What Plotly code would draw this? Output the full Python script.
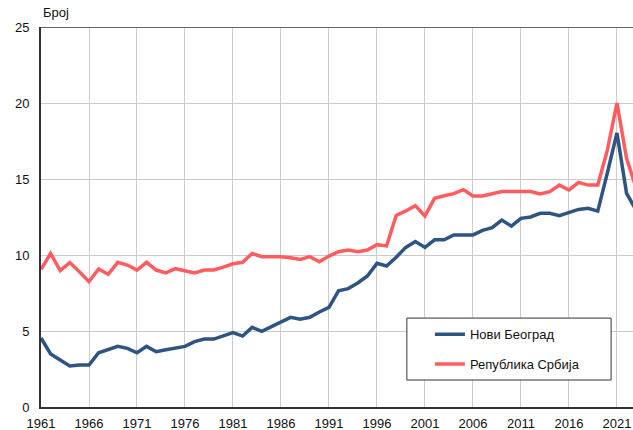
import plotly.graph_objects as go

years = list(range(1961, 2024))

novi_beograd = [4.54, 3.49, 3.09, 2.7, 2.76, 2.76, 3.57, 3.79, 3.99, 3.86,
                3.57, 3.99, 3.64, 3.77, 3.86, 3.99, 4.3, 4.47, 4.47, 4.67,
                4.9, 4.67, 5.24, 4.98, 5.29, 5.59, 5.9, 5.77, 5.9, 6.25,
                6.56, 7.65, 7.79, 8.16, 8.62, 9.45, 9.28, 9.85, 10.5, 10.88,
                10.5, 11.0, 11.0, 11.32, 11.32, 11.32, 11.62, 11.8, 12.3, 11.9,
                12.41, 12.5, 12.74, 12.74, 12.59, 12.79, 13.0, 13.07, 12.89, 15.4,
                18.03, 14.06, 12.95]

republika_srbija = [9.06, 10.1, 8.97, 9.5, 8.9, 8.25, 9.08, 8.73, 9.52, 9.34,
                    9.01, 9.52, 9.01, 8.82, 9.1, 8.95, 8.82, 9.01, 9.01, 9.2,
                    9.42, 9.52, 10.1, 9.89, 9.89, 9.89, 9.82, 9.71, 9.89, 9.56,
                    9.93, 10.22, 10.33, 10.22, 10.33, 10.68, 10.6, 12.6, 12.9, 13.25,
                    12.57, 13.73, 13.9, 14.04, 14.3, 13.88, 13.88, 14.01, 14.17, 14.17,
                    14.17, 14.17, 14.01, 14.17, 14.6, 14.28, 14.78, 14.6, 14.6, 16.9,
                    20.0, 16.36, 14.4]

tick_years = list(range(1961, 2022, 5))
y_ticks = [0, 5, 10, 15, 20, 25]

FONT = "Liberation Sans, Arial, sans-serif"

fig = go.Figure()
fig.add_trace(go.Scatter(x=years, y=novi_beograd, mode="lines", name="Нови Београд",
                         line=dict(color="#2E5484", width=3.5), legendgroup="a"))
fig.add_trace(go.Scatter(x=years, y=republika_srbija, mode="lines", name="Република Србија",
                         line=dict(color="#FF5C5F", width=3.5), legendgroup="b"))

fig.update_layout(
    width=633, height=430,
    margin=dict(l=41, r=0, t=27, b=23),
    paper_bgcolor="white", plot_bgcolor="white",
    font=dict(family=FONT, size=13, color="#111"),
    showlegend=True,
    legend=dict(x=0.657, y=0.231, xanchor="left", yanchor="top",
                bgcolor="rgba(0,0,0,0)", borderwidth=0,
                font=dict(size=13, family=FONT, color="#111"),
                tracegroupgap=10, traceorder="grouped"),
    xaxis=dict(range=[1961, 2022.67], tickvals=tick_years, ticktext=[str(t) for t in tick_years],
               showgrid=True, gridcolor="#CCCCCC", gridwidth=1,
               showline=True, linecolor="#333", linewidth=2,
               ticks="", zeroline=False, tickfont=dict(size=13), ticklabelstandoff=3),
    yaxis=dict(range=[0, 25], tickvals=y_ticks,
               showgrid=True, gridcolor="#CCCCCC", gridwidth=1,
               showline=True, linecolor="#333", linewidth=2,
               ticks="", zeroline=False, tickfont=dict(size=13), ticklabelstandoff=7),
    shapes=[
        dict(type="line", xref="paper", yref="y", x0=0, x1=1, y0=25, y1=25,
             line=dict(color="#333", width=1.5)),
        dict(type="rect", xref="paper", yref="paper", x0=0.618, x1=0.963, y0=0.071, y1=0.234,
             fillcolor="white", line=dict(color="#333", width=1), layer="above"),
    ],
    annotations=[dict(text="Број", xref="paper", yref="paper", x=0, y=1,
                      xanchor="left", yanchor="bottom", yshift=5, showarrow=False,
                      font=dict(size=13, family=FONT, color="#111"))],
)

fig.write_html("out.html", config={"displayModeBar": False},
               post_script="document.body.style.margin='0';")
